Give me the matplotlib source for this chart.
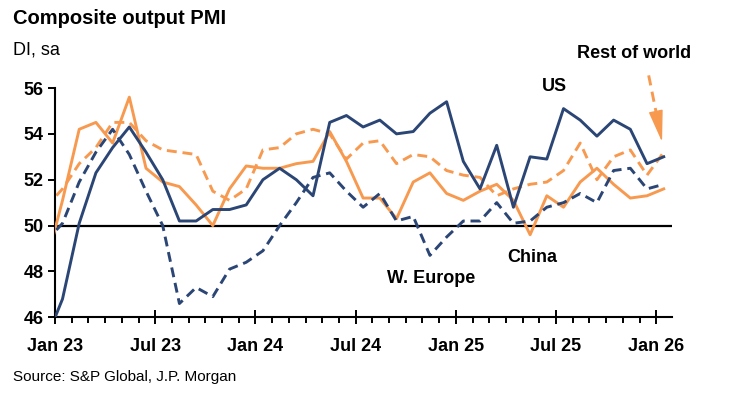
import numpy as np
import matplotlib
matplotlib.use("Agg")
import matplotlib.pyplot as plt
from matplotlib.ticker import FixedLocator, MultipleLocator

plt.rcParams['font.family'] = ['Liberation Sans', 'DejaVu Sans']

# Monthly composite output PMI, Dec 22 .. Jan 26 (Dec 22 only feeds the clipped first segment)
months = ['Dec 22'] + [f'{m} {y}' for y in (23, 24, 25) for m in
                       ['Jan', 'Feb', 'Mar', 'Apr', 'May', 'Jun', 'Jul', 'Aug', 'Sep', 'Oct', 'Nov', 'Dec']] + ['Jan 26']

us = [45.0, 46.8, 50.1, 52.3, 53.4, 54.3, 53.2, 52.0, 50.2, 50.2, 50.7, 50.7, 50.9,
      52.0, 52.5, 52.0, 51.3, 54.5, 54.8, 54.3, 54.6, 54.0, 54.1, 54.9, 55.4,
      52.8, 51.6, 53.5, 50.8, 53.0, 52.9, 55.1, 54.6, 53.9, 54.6, 54.2, 52.7,
      53.0]
w_europe = [49.3, 50.1, 51.9, 53.2, 54.2, 53.1, 51.5, 50.0, 46.6, 47.3, 46.9, 48.1, 48.4,
            48.9, 50.0, 51.0, 52.1, 52.3, 51.5, 50.8, 51.4, 50.2, 50.4, 48.7, 49.5,
            50.2, 50.2, 51.0, 50.1, 50.2, 50.8, 51.0, 51.4, 51.0, 52.4, 52.5, 51.6,
            51.8]
china = [48.3, 51.1, 54.2, 54.5, 53.6, 55.6, 52.5, 51.9, 51.7, 50.9, 50.0, 51.6, 52.6,
         52.5, 52.5, 52.7, 52.8, 54.1, 52.8, 51.2, 51.2, 50.3, 51.9, 52.3, 51.4,
         51.1, 51.5, 51.8, 51.1, 49.6, 51.3, 50.8, 51.9, 52.5, 51.8, 51.2, 51.3,
         51.6]
rest_of_world = [50.8, 51.6, 52.7, 53.4, 54.5, 54.5, 53.7, 53.3, 53.2, 53.1, 51.5, 51.1, 51.6,
                 53.3, 53.4, 54.0, 54.2, 54.0, 52.9, 53.6, 53.7, 52.7, 53.1, 53.0, 52.4,
                 52.2, 52.1, 51.3, 51.6, 51.8, 51.9, 52.4, 53.6, 52.0, 53.0, 53.3, 52.2,
                 53.2]

tick_labels = ['Jan 23', 'Jul 23', 'Jan 24', 'Jul 24', 'Jan 25', 'Jul 25', 'Jan 26']

navy = '#2B4675'
orange = '#F79A50'

# points sit mid-month, ticks at month starts
x = np.arange(len(months)) - 1 + 0.45

W, H = 730, 393
fig = plt.figure(figsize=(W / 100, H / 100), dpi=100)
ax = fig.add_axes([55 / W, 1 - 317.3 / H, (672 - 55) / W, (317.3 - 88) / H])

ax.axhline(50, color='black', lw=1.6, zorder=1)
ax.plot(x, rest_of_world, color=orange, lw=2.1, ls=(0, (3.4, 2.0)), zorder=2)
ax.plot(x, china, color=orange, lw=2.1, zorder=3)
ax.plot(x, w_europe, color=navy, lw=2.1, ls=(0, (3.4, 2.0)), zorder=4)
ax.plot(x, us, color=navy, lw=2.1, zorder=5)

ax.set_xlim(0, (672 - 55) / 16.7)
ax.set_ylim(46, 56)
ax.set_yticks([46, 48, 50, 52, 54, 56])
ax.xaxis.set_major_locator(FixedLocator(range(0, 37, 6)))
ax.xaxis.set_minor_locator(MultipleLocator(1))
ax.set_xticklabels(tick_labels)

for s in ['top', 'right']:
    ax.spines[s].set_visible(False)
for s in ['left', 'bottom']:
    ax.spines[s].set_linewidth(1.5)
ax.tick_params(axis='x', which='major', direction='inout', length=10, width=1.4, pad=10)
ax.tick_params(axis='x', which='minor', direction='out', length=4.3, width=1.4)
ax.tick_params(axis='y', which='major', direction='out', length=5, width=1.4, pad=3)
for lab in ax.get_xticklabels() + ax.get_yticklabels():
    lab.set_fontsize(13)
    lab.set_fontweight('bold')

# series labels
ax.text(29.9, 56.05, 'US', fontsize=13, fontweight='bold', ha='center', va='center',
        clip_on=False)
ax.text(28.6, 48.6, 'China', fontsize=13, fontweight='bold', ha='center', va='center')
ax.text(22.5, 47.7, 'W. Europe', fontsize=13, fontweight='bold', ha='center', va='center')
ax.text(34.7, 57.5, 'Rest of world', fontsize=13, fontweight='bold', ha='center', va='center',
        clip_on=False)

# dashed arrow pointing at the Rest of world line: dashed shaft + solid head
ax.plot([35.55, 36.02], [56.55, 54.85], color=orange, lw=2.1, ls=(0, (3.5, 2.2)),
        clip_on=False, zorder=6)
ax.annotate('', xy=(36.35, 53.65), xytext=(36.0, 54.9), annotation_clip=False,
            arrowprops=dict(arrowstyle='-|>,head_length=2.0,head_width=0.45', color=orange,
                            lw=1, shrinkA=0, shrinkB=0, mutation_scale=10))

fig.text(13 / W, 1 - 18 / H, 'Composite output PMI', fontsize=14.5, fontweight='bold',
         ha='left', va='center')
fig.text(13 / W, 1 - 50 / H, 'DI, sa', fontsize=13, ha='left', va='center')
fig.text(13 / W, 1 - 377 / H, 'Source: S&P Global, J.P. Morgan', fontsize=11, ha='left', va='center')

fig.savefig('out.png', dpi=100)
